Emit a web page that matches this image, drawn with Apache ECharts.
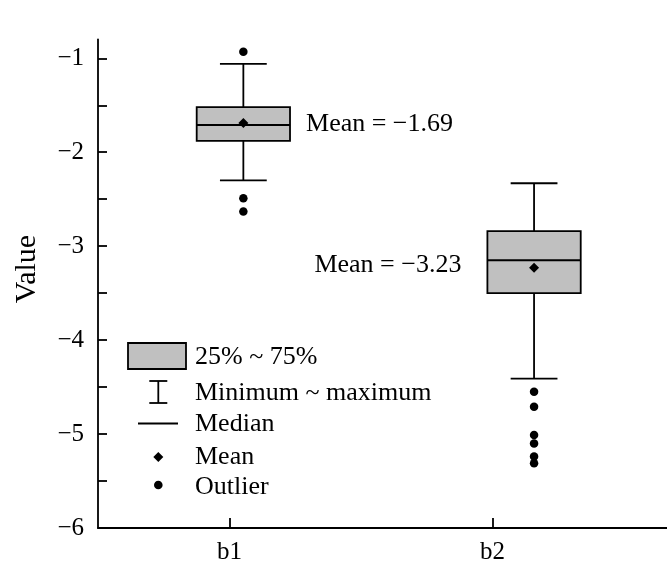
<!DOCTYPE html>
<html><head><meta charset="utf-8">
<script src="https://cdn.jsdelivr.net/npm/echarts@6/dist/echarts.min.js"></script>
<style>html,body{margin:0;padding:0;background:#fff}#c{width:667px;height:566px}</style>
</head><body><div id="c"></div>
<script>
const categories = ['b1', 'b2'];
const boxLow = [-2.30, -4.41];
const boxQ1 = [-1.88, -3.50];
const boxMedian = [-1.71, -3.15];
const boxQ3 = [-1.52, -2.84];
const boxHigh = [-1.06, -2.33];
const means = [-1.69, -3.23];
const outliersB1 = [-0.93, -2.49, -2.63];
const outliersB2 = [-4.55, -4.71, -5.01, -5.10, -5.24, -5.31];
const yTicks = [-6, -5, -4, -3, -2, -1];
const legendLabels = ['25% ~ 75%', 'Minimum ~ maximum', 'Median', 'Mean', 'Outlier'];
const yName = 'Value';

const FONT = '"Liberation Serif", "Times New Roman", serif';
const fmt = v => v.toFixed(2).replace('-', '\u2212');
const tickVals = yTicks.flatMap(v => [v, v + 0.5]).filter(v => v <= -1);

const chart = echarts.init(document.getElementById('c'), null, {renderer: 'canvas'});

const boxData = categories.map((c, i) => [i, boxLow[i], boxQ1[i], boxMedian[i], boxQ3[i], boxHigh[i], means[i]]);
const outlierData = [
  ...outliersB1.map(v => [0, v]),
  ...outliersB2.map(v => [1, v])
];

const LW = 1.8;
const ls = {stroke: '#000', lineWidth: LW};
const txt = (text, x, y, size) => ({type: 'text', x, y, style: {text, fill: '#000', font: size + 'px ' + FONT, verticalAlign: 'middle', align: 'left'}});

const lx = 158.3, tx = 195;
const legendRows = [357, 393, 424, 457, 487];
const graphics = [
  {type: 'rect', shape: {x: 128, y: 343, width: 58, height: 26}, style: {fill: '#c0c0c0', stroke: '#000', lineWidth: LW}},
  {type: 'line', shape: {x1: lx, y1: 381, x2: lx, y2: 403}, style: ls},
  {type: 'line', shape: {x1: lx - 9, y1: 381, x2: lx + 9, y2: 381}, style: ls},
  {type: 'line', shape: {x1: lx - 9, y1: 403, x2: lx + 9, y2: 403}, style: ls},
  {type: 'line', shape: {x1: 138, y1: 423.5, x2: 178, y2: 423.5}, style: ls},
  {type: 'polygon', shape: {points: [[lx, 452], [lx + 5, 457], [lx, 462], [lx - 5, 457]]}, style: {fill: '#000'}},
  {type: 'circle', shape: {cx: lx, cy: 485, r: 4.3}, style: {fill: '#000'}},
  ...legendLabels.map((t, k) => txt(t, tx, legendRows[k], 26)),
  {type: 'text', x: 27, y: 269, rotation: Math.PI / 2, style: {text: yName, fill: '#000', font: '30px ' + FONT, align: 'center', verticalAlign: 'middle'}}
];

chart.setOption({
  animation: false,
  backgroundColor: '#fff',
  grid: {left: 98, top: 39.5, right: 0, height: 488.5, containLabel: false},
  xAxis: [
    {type: 'value', min: -0.5, max: 1.4573, show: false, position: 'top', splitLine: {show: false}, axisLine: {onZero: false}},
    {type: 'value', min: 0.5, max: 2.6635, position: 'bottom',
      axisLine: {show: true, onZero: false, lineStyle: {color: '#000', width: LW}},
      axisTick: {show: true, inside: true, length: 10, lineStyle: {color: '#000', width: LW}, customValues: [1, 2]},
      axisLabel: {customValues: [1, 2], formatter: v => categories[Math.round(v) - 1] || '', color: '#000', fontFamily: FONT, fontSize: 25, margin: 12},
      splitLine: {show: false}}
  ],
  yAxis: {type: 'value', min: -6, max: -0.8, interval: 1, position: 'left',
    axisLine: {show: true, onZero: false, lineStyle: {color: '#000', width: LW}},
    axisTick: {show: true, inside: true, length: 9, lineStyle: {color: '#000', width: LW}, customValues: tickVals},
    axisLabel: {customValues: yTicks, formatter: v => String(v).replace('-', '\u2212'), color: '#000', fontFamily: FONT, fontSize: 25, margin: 14},
    splitLine: {show: false}},
  graphic: graphics,
  series: [
    {type: 'custom', xAxisIndex: 0, data: boxData, encode: {x: 0, y: [1, 2, 3, 4, 5, 6]},
      renderItem(params, api) {
        const i = api.value(0);
        const band = api.size([1, 0])[0];
        const cx = api.coord([i, 0])[0];
        const y = v => api.coord([i, v])[1];
        const low = y(api.value(1)), q1 = y(api.value(2)), med = y(api.value(3)), q3 = y(api.value(4)), high = y(api.value(5)), mean = y(api.value(6));
        const bw = band * 0.321, cw = band * 0.161;
        const right = i === 0;
        return {type: 'group', children: [
          {type: 'line', shape: {x1: cx, y1: high, x2: cx, y2: q3}, style: ls},
          {type: 'line', shape: {x1: cx, y1: q1, x2: cx, y2: low}, style: ls},
          {type: 'line', shape: {x1: cx - cw / 2, y1: high, x2: cx + cw / 2, y2: high}, style: ls},
          {type: 'line', shape: {x1: cx - cw / 2, y1: low, x2: cx + cw / 2, y2: low}, style: ls},
          {type: 'rect', shape: {x: cx - bw / 2, y: q3, width: bw, height: q1 - q3}, style: {fill: '#c0c0c0', stroke: '#000', lineWidth: LW}},
          {type: 'line', shape: {x1: cx - bw / 2, y1: med, x2: cx + bw / 2, y2: med}, style: ls},
          {type: 'polygon', shape: {points: [[cx, mean - 5], [cx + 5, mean], [cx, mean + 5], [cx - 5, mean]]}, style: {fill: '#000'}},
          {type: 'text', x: right ? cx + bw / 2 + 16 : cx - bw / 2 - 26, y: right ? mean + 1 : mean - 3,
            style: {text: 'Mean = ' + fmt(api.value(6)), fill: '#000', font: '26px ' + FONT, align: right ? 'left' : 'right', verticalAlign: 'middle'}}
        ]};
      }},
    {type: 'scatter', xAxisIndex: 0, data: outlierData, symbol: 'circle', symbolSize: 8.5, itemStyle: {color: '#000', opacity: 1}, silent: true}
  ]
});
</script></body></html>
